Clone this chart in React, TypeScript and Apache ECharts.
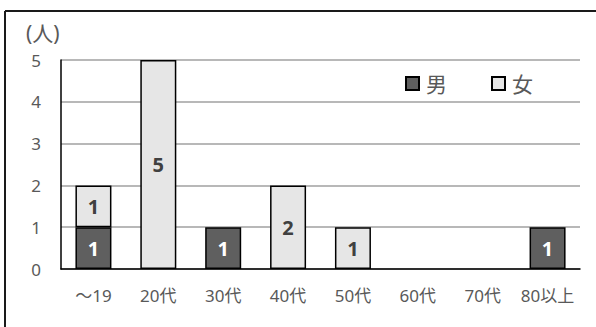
import React, { useEffect, useRef } from "react";
import * as echarts from "echarts";

const categories = ["～19", "20代", "30代", "40代", "50代", "60代", "70代", "80以上"];
const maleCounts = [1, 0, 1, 0, 0, 0, 0, 1];
const femaleCounts = [1, 5, 0, 2, 1, 0, 0, 0];
const yTicks = [0, 1, 2, 3, 4, 5];

const FONT = "'Noto Sans', 'Noto Sans CJK JP', sans-serif";
const TEXT_GRAY = "#595959";

export default function App() {
  const ref = useRef<HTMLDivElement>(null);

  useEffect(() => {
    document.body.style.margin = "0";
    const chart = echarts.init(ref.current!, null, { renderer: "svg" });
    const hideZero = (arr: number[]) => arr.map((v) => (v === 0 ? "-" : v));
    chart.setOption({
      animation: false,
      backgroundColor: "#ffffff",
      textStyle: { fontFamily: FONT },
      grid: { left: 61, right: 16, top: 60, bottom: 58 },
      legend: {
        left: 405,
        top: 73,
        padding: 0,
        itemWidth: 13,
        itemHeight: 13,
        itemGap: 44,
        icon: "rect",
        textStyle: { fontSize: 21, color: TEXT_GRAY, fontFamily: FONT, padding: [0, 0, 0, 2] },
        data: ["男", "女"],
      },
      xAxis: {
        type: "category",
        data: categories,
        axisLine: { show: true, lineStyle: { color: "#000", width: 1.5 } },
        axisTick: { show: false },
        axisLabel: {
          color: TEXT_GRAY,
          fontSize: 17,
          margin: 18,
          interval: 0,
          hideOverlap: false,
          fontFamily: FONT,
        },
      },
      yAxis: {
        type: "value",
        min: yTicks[0],
        max: yTicks[yTicks.length - 1],
        interval: 1,
        axisLine: { show: true, lineStyle: { color: "#000", width: 1.5 } },
        axisTick: { show: false },
        axisLabel: { color: TEXT_GRAY, fontSize: 17, margin: 20, fontFamily: FONT },
        splitLine: { show: true, lineStyle: { color: "#a0a0a0", width: 1.5 } },
      },
      series: [
        {
          name: "男",
          type: "bar",
          stack: "total",
          barWidth: 36,
          data: hideZero(maleCounts),
          itemStyle: { color: "#5f5f5f", borderColor: "#000", borderWidth: 1.5 },
          label: {
            show: true,
            position: "inside",
            color: "#ffffff",
            fontWeight: "bold",
            fontSize: 20,
            fontFamily: FONT,
          },
        },
        {
          name: "女",
          type: "bar",
          stack: "total",
          barWidth: 36,
          data: hideZero(femaleCounts),
          itemStyle: { color: "#e6e6e6", borderColor: "#000", borderWidth: 1.5 },
          label: {
            show: true,
            position: "inside",
            color: "#404040",
            fontWeight: "bold",
            fontSize: 20,
            fontFamily: FONT,
          },
        },
      ],
      graphic: [
        {
          type: "line",
          shape: { x1: 5, y1: 11, x2: 600, y2: 11 },
          style: { stroke: "#1a1a1a", lineWidth: 2 },
        },
        {
          type: "line",
          shape: { x1: 5, y1: 11, x2: 5, y2: 330 },
          style: { stroke: "#1a1a1a", lineWidth: 2 },
        },
        {
          type: "text",
          left: 26,
          top: 22,
          style: { text: "(人)", fontSize: 21, fill: TEXT_GRAY, fontFamily: FONT },
        },
      ],
    });
    return () => chart.dispose();
  }, []);

  return (
    <div
      ref={ref}
      style={{ position: "fixed", left: 0, top: 0, width: 596, height: 327 }}
    />
  );
}
